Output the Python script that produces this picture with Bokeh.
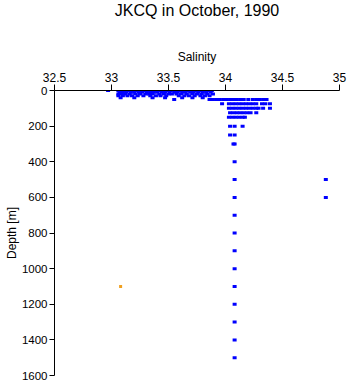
from bokeh.plotting import figure
from bokeh.models import Range1d, FixedTicker, Title
from bokeh.embed import file_html
from bokeh.resources import INLINE

title_text = "JKCQ in October, 1990"
x_label = "Salinity"
y_label = "Depth [m]"
x_ticks = [32.5, 33, 33.5, 34, 34.5, 35]
y_ticks = [0, 200, 400, 600, 800, 1000, 1200, 1400, 1600]

# near-surface rows (salinity values per standard depth)
sal_d0 = [32.97, 33.06, 33.09, 33.12, 33.15, 33.19, 33.22, 33.26, 33.29, 33.32, 33.35, 33.38, 33.41,
          33.45, 33.49, 33.52, 33.56, 33.60, 33.63, 33.67, 33.70, 33.74, 33.77, 33.81, 33.85, 33.88]
sal_d10 = [33.07, 33.10, 33.13, 33.17, 33.20, 33.24, 33.27, 33.31, 33.34, 33.37, 33.40, 33.44,
           33.47, 33.51, 33.55, 33.58, 33.62, 33.65, 33.69, 33.72, 33.76, 33.80, 33.83, 33.87]
sal_d20 = [33.06, 33.09, 33.12, 33.16, 33.21, 33.25, 33.30, 33.33, 33.36, 33.42, 33.46, 33.50,
           33.53, 33.57, 33.61, 33.66, 33.71, 33.75, 33.79, 33.84, 33.89]
sal_d30 = [33.06, 33.10, 33.14, 33.18, 33.23, 33.28, 33.34, 33.39, 33.43, 33.48, 33.59,
           33.64, 33.68, 33.73, 33.78, 33.82, 33.86]
sal_d40 = [33.08, 33.20, 33.36, 33.47, 33.62, 33.71, 33.80]
sal_d50 = [33.55, 33.86, 33.89, 33.92, 33.95, 33.98, 34.01, 34.04, 34.07, 34.10, 34.13, 34.16,
           34.20, 34.24, 34.27, 34.30, 34.33, 34.36]
sal_d75 = [33.97, 34.03, 34.06, 34.09, 34.12, 34.15, 34.18, 34.21, 34.24, 34.27, 34.32, 34.35, 34.39]
sal_d100 = [34.03, 34.06, 34.09, 34.12, 34.15, 34.18, 34.21, 34.24, 34.27, 34.29, 34.33, 34.39]
sal_d125 = [34.04, 34.07, 34.10, 34.13, 34.16, 34.19, 34.22, 34.27]
sal_d150 = [34.03, 34.06, 34.09, 34.12, 34.15, 34.17]
sal_d200 = [34.04, 34.08, 34.15]
sal_d250 = [34.04, 34.08]
sal_d300 = [34.07, 34.08]

# deeper samples
deep_depth = [400, 500, 600, 700, 800, 900, 1000, 1100, 1200, 1300, 1400, 1500]
deep_sal = [34.08, 34.08, 34.08, 34.08, 34.08, 34.08, 34.08, 34.08, 34.08, 34.08, 34.08, 34.08]
outlier_depth = [500, 600]
outlier_sal = [34.88, 34.88]

# flagged sample (orange)
flag_depth = [1100]
flag_sal = [33.08]

rows = [(0, sal_d0), (10, sal_d10), (20, sal_d20), (30, sal_d30), (40, sal_d40), (50, sal_d50),
        (75, sal_d75), (100, sal_d100), (125, sal_d125), (150, sal_d150), (200, sal_d200),
        (250, sal_d250), (300, sal_d300)]
xs, ys = [], []
for d, sals in rows:
    for s in sals:
        xs.append(s)
        ys.append(d)
xs += deep_sal + outlier_sal
ys += deep_depth + outlier_depth

FONT = "Liberation Sans"

p = figure(width=348, height=384, output_backend="svg", toolbar_location=None,
           x_range=Range1d(32.5, 35), y_range=Range1d(1600, 0),
           x_axis_location="above", min_border_left=54, min_border_right=9,
           min_border_top=90, min_border_bottom=9,
           title=Title(text=title_text, align="center", text_font=FONT,
                       text_font_size="16px", text_font_style="normal",
                       text_color="black", standoff=0, vertical_align="top"))
p.outline_line_color = None
p.xgrid.visible = False
p.ygrid.visible = False
p.background_fill_color = "white"
p.border_fill_color = "white"

for ax in (p.xaxis[0], p.yaxis[0]):
    ax.major_label_text_font = FONT
    ax.major_label_text_font_size = "12px"
    ax.major_label_text_color = "black"
    ax.axis_label_text_font = FONT
    ax.axis_label_text_font_size = "12px"
    ax.axis_label_text_font_style = "normal"
    ax.axis_label_text_color = "black"
    ax.axis_line_color = "black"
    ax.major_tick_line_color = "black"
    ax.minor_tick_line_color = None
    ax.major_tick_in = 0

p.xaxis[0].ticker = FixedTicker(ticks=x_ticks)
p.xaxis[0].axis_label = x_label
p.xaxis[0].major_tick_out = 6
p.xaxis[0].major_label_standoff = 3
p.xaxis[0].axis_label_standoff = 6

p.yaxis[0].ticker = FixedTicker(ticks=y_ticks)
p.yaxis[0].axis_label = y_label
p.yaxis[0].major_label_text_font_size = "11.5px"
p.yaxis[0].major_tick_out = 5
p.yaxis[0].major_label_standoff = 2
p.yaxis[0].axis_label_standoff = 0

# blank spacer between the top axis and the title
spacer = Title(text=" ", text_font=FONT, text_font_size="12px", standoff=10)
p.add_layout(spacer, "above")

p.rect(x=xs, y=ys, width=4, height=3, width_units="screen", height_units="screen",
       fill_color="#0000ff", line_color=None)
p.rect(x=flag_sal, y=flag_depth, width=3, height=3, width_units="screen", height_units="screen",
       fill_color="#f0a020", line_color=None)

open("out.html", "w").write(file_html(p, INLINE))
